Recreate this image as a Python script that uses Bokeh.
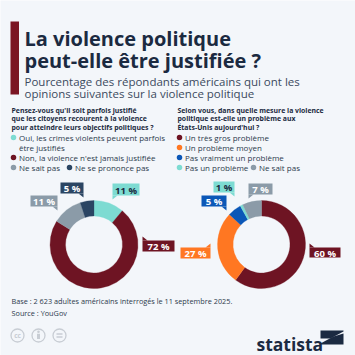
import numpy as np
from bokeh.plotting import figure
from bokeh.models import Range1d
from bokeh.embed import file_html
from bokeh.resources import INLINE
from bokeh.core.properties import value

# ---------------- data ----------------
title_lines = ["La violence politique", "peut-elle être justifiée ?"]
subtitle_lines = ["Pourcentage des répondants américains qui ont les",
                  "opinions suivantes sur la violence politique"]

q1_lines = ["Pensez-vous qu'il soit parfois justifié",
            "que les citoyens recourent à la violence",
            "pour atteindre leurs objectifs politiques ?"]
q1_labels = ["Oui, les crimes violents peuvent parfois|être justifiés",
             "Non, la violence n'est jamais justifiée",
             "Ne sait pas", "Ne se prononce pas"]
q1_values = [11, 72, 11, 5]
q1_colors = ["#7ddbd2", "#6e1423", "#8b9ba8", "#2b4563"]

q2_lines = ["Selon vous, dans quelle mesure la violence",
            "politique est-elle un problème aux",
            "États-Unis aujourd'hui ?"]
q2_labels = ["Un très gros problème", "Un problème moyen",
             "Pas vraiment un problème", "Pas un problème", "Ne sait pas"]
q2_values = [60, 27, 5, 1, 7]
q2_colors = ["#6e1423", "#ff7722", "#0b57b7", "#7ddbd2", "#8b9ba8"]

footer_lines = ["Base : 2 623 adultes américains interrogés le 11 septembre 2025.",
                "Source : YouGov"]

# ---------------- layout ----------------
BG = "#f3f6fa"
DARK = "#1b2a41"
TXT = "#2c3a4c"
FONT = "Open Sans"
W = H = 355


def Y(y):
    return H - y


p = figure(width=W, height=H, output_backend="svg", toolbar_location=None,
           x_range=Range1d(0, W), y_range=Range1d(0, H), min_border=0)
p.axis.visible = False
p.grid.visible = False
p.outline_line_color = None
p.background_fill_color = BG
p.border_fill_color = BG


def txt(x, y, s, size, color=TXT, bold=False, align="left", baseline="alphabetic"):
    p.text(x=[x], y=[Y(y)], text=[s], text_font=value(FONT),
           text_font_size=size, text_color=color,
           text_font_style="bold" if bold else "normal",
           text_align=align, text_baseline=baseline)


# accent bar
p.quad(left=[10], right=[18.5], top=[Y(21)], bottom=[Y(94)], fill_color="#7b1523", line_color=None)

for i, s in enumerate(title_lines):
    txt(24, 38 + i * 21.5, s, "20px", DARK, bold=True)
for i, s in enumerate(subtitle_lines):
    txt(24, 80.5 + i * 12.5, s, "11.5px", "#3b4a5e")

# questions
for i, s in enumerate(q1_lines):
    txt(11, 109.5 + i * 8.8, s, "6.9px", DARK, bold=True)
for i, s in enumerate(q2_lines):
    txt(177, 109.5 + i * 8.8, s, "6.9px", DARK, bold=True)


def legend(items, colors, positions):
    for (lab, col, (x, y)) in zip(items, colors, positions):
        p.scatter(x=[x], y=[Y(y)], size=5.5, color=col, line_color=None)
        for j, part in enumerate(lab.split("|")):
            txt(x + 5.5, y + j * 10, part, "8px", TXT, baseline="middle")


legend(q1_labels, q1_colors, [(13, 137), (13, 157), (13, 167), (69, 167)])
legend(q2_labels, q2_colors, [(179, 137), (179, 147), (179, 157), (179, 167), (253, 167)])


def donut(cx, cy, vals, cols):
    vals = np.array(vals, dtype=float)
    tot = vals.sum()
    cum = np.concatenate([[0], np.cumsum(vals)])
    start = np.pi / 2 - 2 * np.pi * cum[:-1] / tot
    end = np.pi / 2 - 2 * np.pi * cum[1:] / tot
    p.annular_wedge(x=[cx] * len(vals), y=[Y(cy)] * len(vals), inner_radius=28.5, outer_radius=44,
                    start_angle=start, end_angle=end, direction="clock",
                    fill_color=cols, line_color=cols, line_width=0.3)


donut(93.5, 244, q1_values, q1_colors)
donut(261, 244, q2_values, q2_colors)


def label(box, ptr, v, col, tcol="white"):
    x0, x1, y0, y1 = box
    p.quad(left=[x0], right=[x1], top=[Y(y0)], bottom=[Y(y1)], fill_color=col, line_color=None)
    if ptr == "bl":
        pts = [(x0, y1), (x0 + 5, y1), (x0, y1 + 4)]
    elif ptr == "br":
        pts = [(x1 - 5, y1), (x1, y1), (x1, y1 + 4)]
    elif ptr == "tl":
        pts = [(x0, y0), (x0 + 5, y0), (x0, y0 - 4)]
    else:
        pts = [(x1 - 5, y0), (x1, y0), (x1, y0 - 4)]
    p.patch(x=[a for a, b in pts], y=[Y(b) for a, b in pts], fill_color=col, line_color=None)
    txt((x0 + x1) / 2, (y0 + y1) / 2 + 0.5, f"{v} %", "9.5px", tcol, bold=True,
        align="center", baseline="middle")


q1_boxes = [((112, 139, 183, 195), "bl"), ((142, 174, 240, 251), "tl"),
            ((30, 57, 195, 206), "br"), ((60, 83, 182, 193), "br")]
for (b, pt), v, c in zip(q1_boxes, q1_values, q1_colors):
    label(b, pt, v, c, DARK if c == "#7ddbd2" else "white")

q2_boxes = [((309, 340, 247, 257), "tl"), ((180, 210, 247, 258), "tr"),
            ((201, 226, 195, 206), "br"), ((213, 234, 181, 192), "br"),
            ((248, 272, 183, 194), "bl")]
for (b, pt), v, c in zip(q2_boxes, q2_values, q2_colors):
    label(b, pt, v, c, DARK if c == "#7ddbd2" else "white")

# footer
for i, s in enumerate(footer_lines):
    txt(11, 300 + i * 12, s, "7.3px", TXT, baseline="middle")

# cc icons
IC = "#c8cdd4"
p.circle(x=[17, 38, 59], y=[Y(335)] * 3, radius=6.5, fill_color=None, line_color=IC, line_width=1.3)
txt(17, 335.3, "cc", "6.5px", IC, bold=True, align="center", baseline="middle")
p.circle(x=[38], y=[Y(331.3)], radius=1.3, fill_color=IC, line_color=None)
p.quad(left=[36.5], right=[39.5], top=[Y(333.3)], bottom=[Y(338.5)], fill_color=IC, line_color=None)
p.segment(x0=[56, 56], y0=[Y(333.5), Y(336.5)], x1=[62, 62], y1=[Y(333.5), Y(336.5)], line_color=IC, line_width=1.3)

# statista logo
txt(256, 343, "statista", "17.5px", DARK, bold=True)
p.patch(x=[320, 343, 343, 330, 320], y=[Y(330), Y(330), Y(331), Y(338), Y(338)], fill_color=DARK, line_color=None)
p.patch(x=[343, 343, 320, 320, 333], y=[Y(333), Y(344), Y(344), Y(343), Y(336)], fill_color=DARK, line_color=None)

open("out.html", "w").write(file_html(p, INLINE))
